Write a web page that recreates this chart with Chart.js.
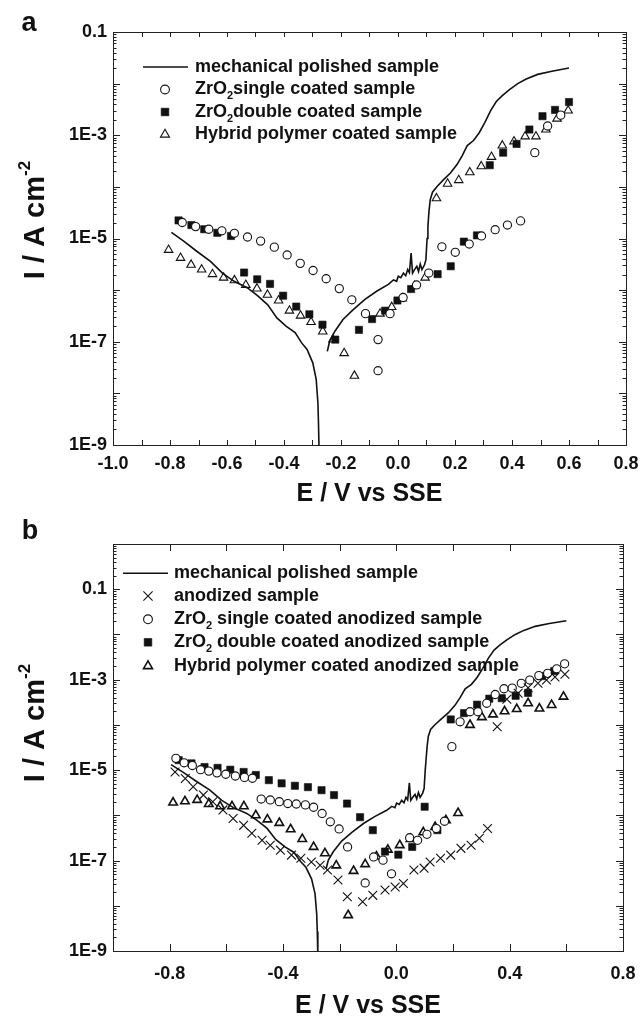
<!DOCTYPE html>
<html lang="en">
<head>
<meta charset="UTF-8" />
<title>Polarization curves</title>
<script src="https://cdn.jsdelivr.net/npm/chart.js"></script>
<style>
  html, body { margin: 0; padding: 0; background: #fff; }
  #wrap { position: relative; width: 641px; height: 1017px; }
  canvas { position: absolute; left: 0; }
  #chartA { top: 0; }
  #chartB { top: 505px; }
</style>
</head>
<body>
<div id="wrap">
  <canvas id="chartA" width="641" height="505"></canvas>
  <canvas id="chartB" width="641" height="512"></canvas>
</div>
<script>
  // ---- data (E in V vs SSE, I in A cm-2) ----
  // mechanical polished sample (same curve in both panels); null = break at Ecorr
  const polishedE = [-0.795,-0.752,-0.705,-0.658,-0.616,-0.575,-0.528,-0.493,-0.457,-0.425,
    -0.393,-0.361,-0.338,-0.319,-0.299,-0.287,-0.281,-0.279,-0.277,-0.262,
    -0.248,-0.240,-0.222,-0.193,-0.157,-0.116,-0.075,-0.034,-0.016,-0.005,
    0.001,0.010,0.019,0.027,0.034,0.040,0.046,0.051,0.058,0.066,
    0.072,0.078,0.084,0.093,0.098,0.102,0.105,0.109,0.113,0.121,
    0.137,0.160,0.184,0.207,0.225,0.243,0.265,0.285,0.305,0.325,
    0.345,0.365,0.39,0.42,0.45,0.49,0.54,0.60];
  const polishedI = [1.32e-5,8.9e-6,5.6e-6,3.6e-6,2.14e-6,1.48e-6,1.10e-6,7.8e-7,5.2e-7,2.9e-7,
    2.0e-7,1.51e-7,9.5e-8,7.1e-8,3.9e-8,1.86e-8,6.5e-9,2.7e-9,8e-10,null,
    6.5e-8,1.02e-7,1.58e-7,2.7e-7,4.2e-7,6.6e-7,9.5e-7,1.29e-6,1.58e-6,1.48e-6,
    1.86e-6,1.74e-6,2.14e-6,1.9e-6,2.5e-6,2.19e-6,5.2e-6,2.14e-6,2.5e-6,2.9e-6,
    2.3e-6,3.2e-6,2.5e-6,3.1e-6,3.9e-6,1.0e-5,1.74e-5,3.5e-5,5.6e-5,7.9e-5,
    1.02e-4,1.38e-4,1.86e-4,2.7e-4,4.0e-4,6.3e-4,7.9e-4,1.12e-3,1.78e-3,3.0e-3,
    4.5e-3,5.8e-3,7.6e-3,1.0e-2,1.23e-2,1.51e-2,1.74e-2,2.0e-2];

  // panel a
  const aSingleE = [-0.757,-0.710,-0.664,-0.618,-0.574,-0.528,-0.482,-0.434,-0.389,-0.343,
    -0.298,-0.252,-0.206,-0.162,-0.114,-0.070,-0.070,-0.028,0.018,0.065,
    0.108,0.154,0.201,0.250,0.293,0.341,0.384,0.430,0.480,0.525,0.571];
  const aSingleI = [2.04e-5,1.70e-5,1.51e-5,1.41e-5,1.26e-5,1.07e-5,8.9e-6,6.8e-6,4.8e-6,3.3e-6,
    2.4e-6,1.66e-6,1.07e-6,6.5e-7,3.5e-7,1.10e-7,2.75e-8,3.5e-7,7.2e-7,1.26e-6,
    2.14e-6,6.9e-6,5.4e-6,7.8e-6,1.12e-5,1.48e-5,1.82e-5,2.19e-5,4.6e-4,1.51e-3,2.45e-3];

  const aDoubleE = [-0.770,-0.725,-0.680,-0.634,-0.586,-0.540,-0.494,-0.449,-0.403,-0.357,
    -0.311,-0.265,-0.220,-0.137,-0.091,-0.045,-0.002,0.046,0.139,0.185,
    0.231,0.277,0.322,0.369,0.416,0.461,0.507,0.551,0.600];
  const aDoubleI = [2.24e-5,1.82e-5,1.51e-5,1.29e-5,1.12e-5,2.19e-6,1.62e-6,1.32e-6,7.8e-7,4.8e-7,
    3.4e-7,2.14e-7,1.10e-7,1.70e-7,2.75e-7,4.0e-7,6.3e-7,1.05e-6,2.04e-6,2.9e-6,
    8.7e-6,1.15e-5,2.63e-4,4.6e-4,6.8e-4,1.29e-3,2.34e-3,3.1e-3,4.4e-3];

  const aHybridE = [-0.805,-0.763,-0.726,-0.689,-0.651,-0.612,-0.574,-0.534,-0.495,-0.458,
    -0.419,-0.381,-0.342,-0.305,-0.264,-0.228,-0.189,-0.153,-0.063,-0.022,
    0.015,0.058,0.095,0.135,0.174,0.213,0.252,0.292,0.328,0.366,
    0.407,0.446,0.484,0.519,0.558,0.597];
  const aHybridI = [6.0e-6,4.2e-6,3.1e-6,2.5e-6,2.04e-6,1.74e-6,1.55e-6,1.26e-6,1.07e-6,8.1e-7,
    6.3e-7,4.0e-7,3.2e-7,2.4e-7,1.58e-7,1.10e-7,6.0e-8,2.19e-8,3.5e-7,4.7e-7,
    6.9e-7,1.20e-6,1.74e-6,6.0e-5,1.15e-4,1.35e-4,1.91e-4,2.5e-4,3.8e-4,6.3e-4,
    7.6e-4,9.5e-4,9.5e-4,1.29e-3,2.09e-3,3.0e-3];

  // panel b
  const bAnodE = [-0.781,-0.745,-0.717,-0.681,-0.648,-0.612,-0.576,-0.539,-0.510,-0.474,
    -0.445,-0.409,-0.370,-0.337,-0.300,-0.269,-0.243,-0.206,-0.173,-0.119,
    -0.083,-0.040,-0.004,0.025,0.062,0.098,0.119,0.156,0.192,0.228,
    0.264,0.293,0.322,0.356,0.39,0.43,0.465,0.50,0.53,0.56,0.595];
  const bAnodI = [9.1e-6,6.5e-6,4.3e-6,2.8e-6,2.0e-6,1.32e-6,8.5e-7,6.0e-7,4.0e-7,2.8e-7,
    2.19e-7,1.70e-7,1.32e-7,1.12e-7,9.3e-8,7.9e-8,6.2e-8,3.7e-8,1.58e-8,1.23e-8,
    1.70e-8,2.24e-8,2.6e-8,3.1e-8,6.2e-8,6.8e-8,9.3e-8,1.12e-7,1.32e-7,1.86e-7,
    2.19e-7,3.1e-7,5.1e-7,9.1e-5,3.7e-4,5.0e-4,6.6e-4,8.3e-4,9.8e-4,1.15e-3,1.32e-3];

  const bSingleE = [-0.778,-0.749,-0.720,-0.691,-0.662,-0.633,-0.602,-0.568,-0.536,-0.508,
    -0.477,-0.445,-0.413,-0.383,-0.353,-0.321,-0.292,-0.262,-0.233,-0.202,
    -0.172,-0.110,-0.080,-0.047,-0.017,0.047,0.075,0.108,0.141,0.170,
    0.196,0.225,0.260,0.288,0.319,0.349,0.380,0.409,0.441,0.471,0.503,0.534,0.566,0.594];
  const bSingleI = [1.82e-5,1.45e-5,1.26e-5,1.02e-5,9.5e-6,8.7e-6,8.1e-6,7.4e-6,6.9e-6,6.6e-6,
    2.29e-6,2.19e-6,2.0e-6,1.82e-6,1.78e-6,1.70e-6,1.51e-6,1.10e-6,7.2e-7,5.0e-7,
    2.0e-7,3.2e-8,1.20e-7,1.02e-7,5.1e-8,3.2e-7,2.8e-7,3.8e-7,5.1e-7,7.4e-7,
    3.3e-5,1.17e-4,1.95e-4,1.95e-4,3.0e-4,4.7e-4,6.3e-4,6.5e-4,8.3e-4,9.8e-4,1.23e-3,1.38e-3,1.74e-3,2.24e-3];

  const bDoubleE = [-0.768,-0.723,-0.677,-0.631,-0.586,-0.539,-0.496,-0.450,-0.405,-0.358,
    -0.312,-0.264,-0.220,-0.174,-0.128,-0.083,-0.040,0.007,0.056,0.100,
    0.145,0.192,0.239,0.285,0.328,0.372,0.421,0.465,0.514,0.557];
  const bDoubleI = [1.66e-5,1.41e-5,1.17e-5,1.12e-5,1.02e-5,9.1e-6,7.8e-6,6.0e-6,5.1e-6,4.5e-6,
    4.2e-6,3.6e-6,2.8e-6,1.82e-6,9.1e-7,4.7e-7,1.58e-7,1.35e-7,2.0e-7,1.55e-6,
    4.7e-7,1.32e-4,1.82e-4,2.8e-4,3.8e-4,3.9e-4,4.4e-4,5.1e-4,1.20e-3,1.55e-3];

  const bHybridE = [-0.788,-0.746,-0.703,-0.662,-0.622,-0.580,-0.538,-0.496,-0.455,-0.413,
    -0.373,-0.332,-0.292,-0.252,-0.212,-0.170,-0.151,-0.110,-0.070,-0.030,
    0.012,0.050,0.095,0.137,0.175,0.218,0.260,0.302,0.341,0.382,
    0.425,0.465,0.505,0.548,0.590];
  const bHybridI = [1.91e-6,2.04e-6,2.19e-6,1.78e-6,1.58e-6,1.58e-6,1.58e-6,1.0e-6,8.1e-7,6.8e-7,
    4.9e-7,3.0e-7,2.0e-7,1.45e-7,7.8e-8,6.2e-9,5.9e-8,8.3e-8,1.23e-7,1.74e-7,
    2.19e-7,3.0e-7,4.2e-7,5.5e-7,7.8e-7,1.12e-6,1.0e-4,1.48e-4,1.70e-4,2.0e-4,
    2.24e-4,3.0e-4,2.29e-4,2.75e-4,4.2e-4];

  // tick labels
  const xTicksA = [-1.0, -0.8, -0.6, -0.4, -0.2, 0.0, 0.2, 0.4, 0.6, 0.8];
  const xTicksB = [-0.8, -0.4, 0.0, 0.4, 0.8];
  const yTicks = [1e-9, 1e-7, 1e-5, 1e-3, 0.1];

  // legend texts: [text, 0 normal | -1 subscript | 1 superscript]
  const legendA = [
    ['line',     [['mechanical polished sample', 0]]],
    ['circle',   [['ZrO', 0], ['2', -1], ['single coated sample', 0]]],
    ['rect',     [['ZrO', 0], ['2', -1], ['double coated sample', 0]]],
    ['triangle', [['Hybrid polymer coated sample', 0]]]
  ];
  const legendB = [
    ['line',     [['mechanical polished sample', 0]]],
    ['cross',    [['anodized sample', 0]]],
    ['circle',   [['ZrO', 0], ['2', -1], [' single coated anodized sample', 0]]],
    ['rect',     [['ZrO', 0], ['2', -1], [' double coated anodized sample', 0]]],
    ['triangleB',[['Hybrid polymer coated anodized sample', 0]]]
  ];
  const xTitle = [['E / V vs SSE', 0]];
  const yTitle = [['I / A cm', 0], ['-2', 1]];

  // ---- drawing ----
  const FONT = '"Liberation Sans", Arial, Helvetica, sans-serif';
  const INK = '#111';
  Chart.defaults.font.family = FONT;
  Chart.defaults.color = INK;

  const marks = {
    line:      { showLine: true, borderColor: INK, borderWidth: 1.6, pointRadius: 0 },
    circle:    { pointStyle: 'circle', pointRadius: 4.1, borderWidth: 1.1, borderColor: INK, backgroundColor: '#fff' },
    rect:      { pointStyle: 'rect', pointRadius: 5.1, borderWidth: 0.6, borderColor: INK, backgroundColor: INK },
    triangle:  { pointStyle: 'triangle', pointRadius: 4.9, borderWidth: 1.1, borderColor: INK, backgroundColor: '#fff' },
    triangleB: { pointStyle: 'triangle', pointRadius: 4.9, borderWidth: 1.6, borderColor: INK, backgroundColor: '#fff' },
    cross:     { pointStyle: 'crossRot', pointRadius: 6.2, borderWidth: 1.1, borderColor: INK, backgroundColor: INK }
  };

  const pts = (E, I) => E.map((x, i) => ({ x: x, y: I[i] }));
  const set = (E, I, kind) => Object.assign({ data: pts(E, I), spanGaps: false }, marks[kind]);

  function richWidth(ctx, parts, size) {
    let w = 0;
    parts.forEach(([t, m]) => {
      ctx.font = 'bold ' + (m ? Math.round(size * 0.6) : size) + 'px ' + FONT;
      w += ctx.measureText(t).width;
    });
    return w;
  }

  function drawRich(ctx, parts, x, y, size) {
    let cx = x;
    parts.forEach(([t, m]) => {
      ctx.font = 'bold ' + (m ? Math.round(size * 0.6) : size) + 'px ' + FONT;
      ctx.fillText(t, cx, y - m * size * 0.38);
      cx += ctx.measureText(t).width;
    });
  }

  function legendMark(ctx, kind, x, y, lineX0, lineX1) {
    const m = marks[kind];
    ctx.strokeStyle = INK;
    if (kind === 'line') {
      ctx.lineWidth = m.borderWidth;
      ctx.beginPath(); ctx.moveTo(lineX0, y); ctx.lineTo(lineX1, y); ctx.stroke();
      return;
    }
    ctx.fillStyle = m.backgroundColor;
    ctx.lineWidth = m.borderWidth;
    Chart.helpers.drawPoint(ctx, { pointStyle: m.pointStyle, radius: m.pointRadius + 0.3, rotation: 0, borderWidth: m.borderWidth }, x, y);
  }

  const decor = {
    id: 'decor',
    afterDraw(chart, args, o) {
      const ctx = chart.ctx, a = chart.chartArea;
      const xs = chart.scales.x, ys = chart.scales.y;
      ctx.save();
      ctx.strokeStyle = '#222';
      ctx.lineWidth = 1;
      ctx.beginPath();
      for (let v = xs.min; v <= xs.max + 1e-6; v += o.xStep) {
        const px = Math.round(xs.getPixelForValue(v)) + 0.5;
        ctx.moveTo(px, a.bottom); ctx.lineTo(px, a.bottom - o.xTick);
        ctx.moveTo(px, a.top); ctx.lineTo(px, a.top + o.xTick);
      }
      for (let d = -9; d <= 0; d++) {
        for (let k = 1; k <= 9; k++) {
          const v = Number(k + 'e' + d);
          if (v < ys.min * 0.999 || v > ys.max * 1.001) continue;
          const py = Math.round(ys.getPixelForValue(v)) + 0.5;
          const len = k === 1 ? 7 : 3.5;
          ctx.moveTo(a.left, py); ctx.lineTo(a.left + len, py);
          ctx.moveTo(a.right, py); ctx.lineTo(a.right - len, py);
        }
      }
      ctx.stroke();
      ctx.strokeRect(Math.round(a.left) + 0.5, Math.round(a.top) + 0.5,
        Math.round(a.right - a.left), Math.round(a.bottom - a.top));

      ctx.fillStyle = INK;
      ctx.textBaseline = 'middle';
      // panel letter
      ctx.textAlign = 'center';
      ctx.font = 'bold 27px ' + FONT;
      ctx.fillText(o.letter, o.letterX, o.letterY);
      // axis titles
      ctx.textAlign = 'left';
      const xw = richWidth(ctx, xTitle, o.xTitleSize);
      drawRich(ctx, xTitle, (a.left + a.right) / 2 - xw / 2, o.xTitleY, o.xTitleSize);
      ctx.save();
      ctx.translate(o.yTitleX, o.yTitleY);
      ctx.rotate(-Math.PI / 2);
      const yw = richWidth(ctx, yTitle, o.yTitleSize);
      drawRich(ctx, yTitle, -yw / 2, 0, o.yTitleSize);
      ctx.restore();
      // legend
      o.legend.forEach(([kind, parts], i) => {
        const y = o.legY[i];
        legendMark(ctx, kind, o.legMarkX, y, o.legLine[0], o.legLine[1]);
        ctx.fillStyle = INK;
        ctx.textAlign = 'left';
        ctx.textBaseline = 'middle';
        drawRich(ctx, parts, o.legTextX, y, 18);
      });
      ctx.restore();
    }
  };

  const fmtX = v => (Math.abs(v) < 1e-9 ? 0 : v).toFixed(1);
  const fmtY = v => v > 0.05 ? '0.1' : '1E' + Math.round(Math.log10(v));

  function makeChart(id, c) {
    return new Chart(document.getElementById(id), {
      type: 'scatter',
      data: { datasets: c.datasets },
      options: {
        responsive: false,
        animation: false,
        events: [],
        layout: { padding: { top: c.top, right: c.right, left: 0, bottom: 0 } },
        plugins: { legend: { display: false }, tooltip: { enabled: false }, decor: c.decor },
        scales: {
          x: {
            type: 'linear', min: -1.0, max: 0.8,
            grid: { display: false, drawTicks: false }, border: { display: false },
            afterBuildTicks: s => { s.ticks = c.xTicks.map(v => ({ value: v })); },
            afterFit: s => { s.height = c.xAxisH; s.paddingLeft = 0; s.paddingRight = 0; },
            ticks: { padding: c.xPad, autoSkip: false, maxRotation: 0, color: INK,
              font: { size: 18, weight: 'bold' }, callback: v => fmtX(v) }
          },
          y: {
            type: 'logarithmic', min: 1e-9, max: c.yMax,
            grid: { display: false, drawTicks: false }, border: { display: false },
            afterBuildTicks: s => { s.ticks = yTicks.map(v => ({ value: v })); },
            afterFit: s => { s.width = 113; s.paddingTop = 0; s.paddingBottom = 0; },
            ticks: { padding: 6, autoSkip: false, color: INK,
              font: { size: 18, weight: 'bold' }, callback: v => fmtY(v) }
          }
        }
      },
      plugins: [decor]
    });
  }

  makeChart('chartA', {
    top: 32, right: 15, xAxisH: 60, xPad: 8, yMax: 0.1, xTicks: xTicksA,
    datasets: [
      set(polishedE, polishedI, 'line'),
      set(aSingleE, aSingleI, 'circle'),
      set(aDoubleE, aDoubleI, 'rect'),
      set(aHybridE, aHybridI, 'triangle')
    ],
    decor: {
      letter: 'a', letterX: 29, letterY: 24, xStep: 0.1, xTick: 5,
      xTitleY: 494, xTitleSize: 25, yTitleX: 36, yTitleY: 220, yTitleSize: 29,
      legend: legendA, legY: [67, 89.5, 112, 134.5], legMarkX: 165, legLine: [143, 188], legTextX: 195
    }
  });

  makeChart('chartB', {
    top: 39, right: 18, xAxisH: 66, xPad: 12, yMax: 1, xTicks: xTicksB,
    datasets: [
      set(polishedE, polishedI, 'line'),
      set(bAnodE, bAnodI, 'cross'),
      set(bSingleE, bSingleI, 'circle'),
      set(bDoubleE, bDoubleI, 'rect'),
      set(bHybridE, bHybridI, 'triangleB')
    ],
    decor: {
      letter: 'b', letterX: 30, letterY: 27, xStep: 0.2, xTick: 7,
      xTitleY: 501, xTitleSize: 25, yTitleX: 36, yTitleY: 218, yTitleSize: 29,
      legend: legendB, legY: [68.3, 91, 114.3, 137.3, 161], legMarkX: 148, legLine: [123, 168], legTextX: 174
    }
  });
</script>
</body>
</html>
